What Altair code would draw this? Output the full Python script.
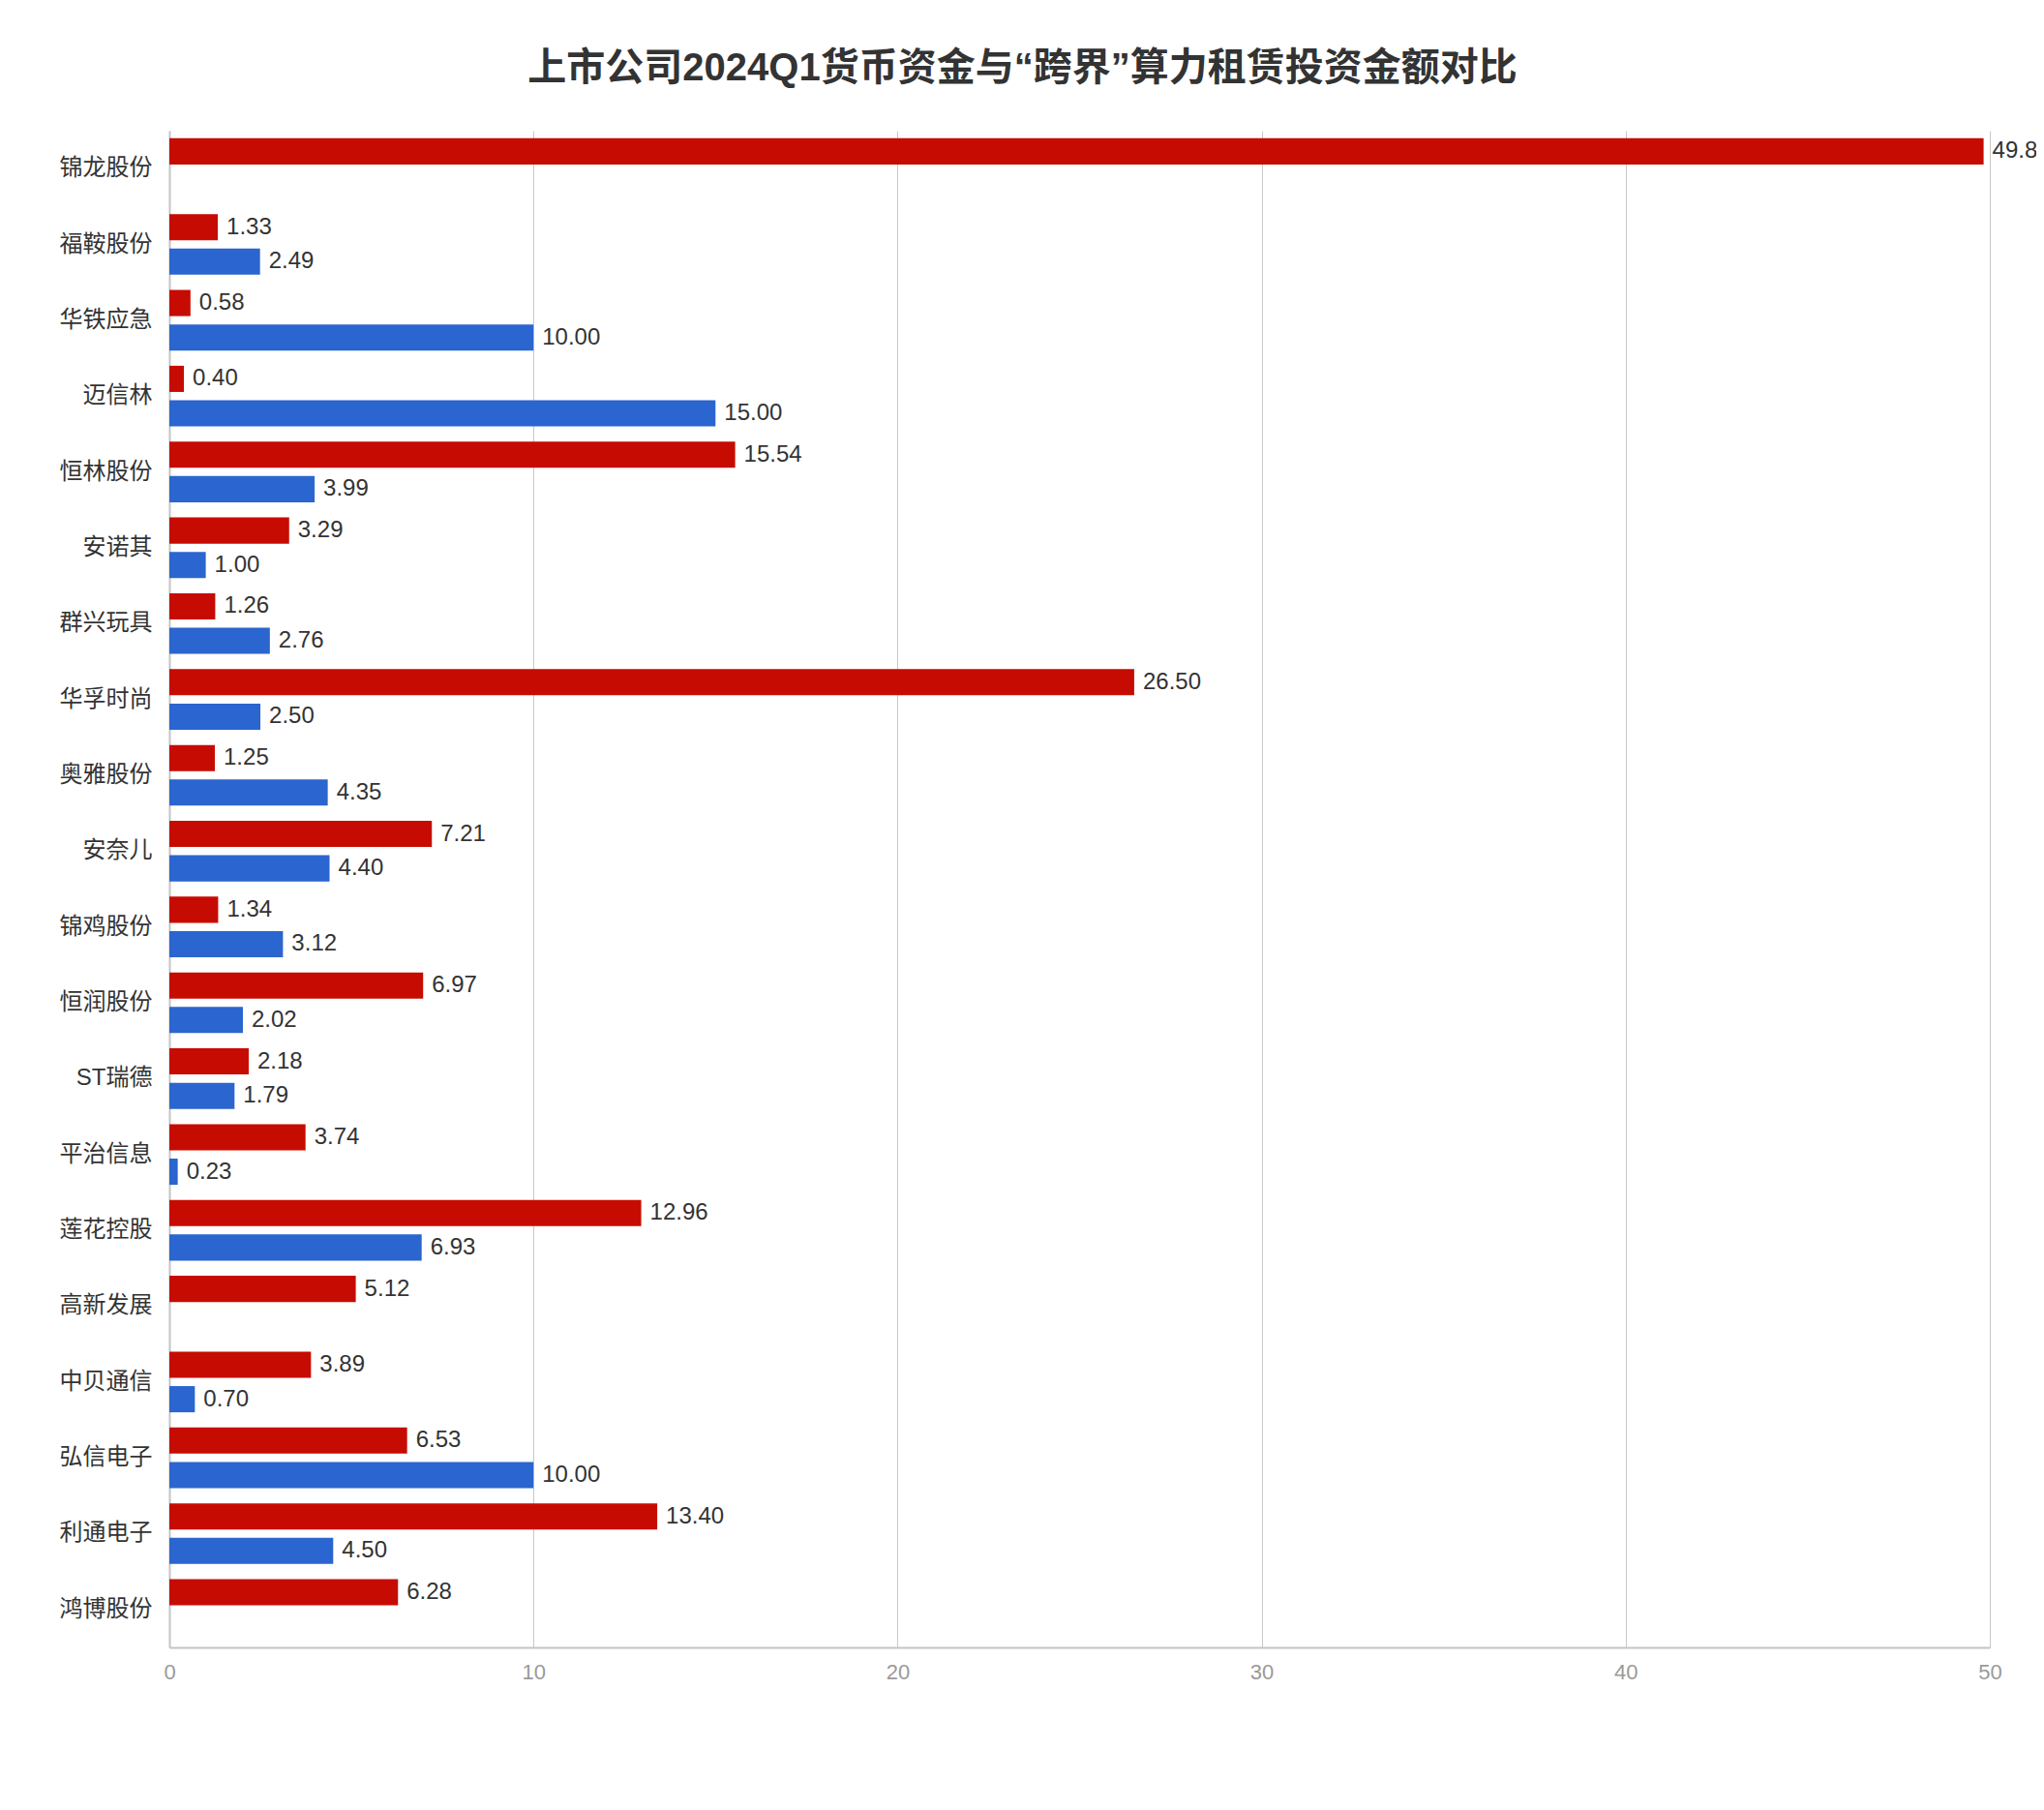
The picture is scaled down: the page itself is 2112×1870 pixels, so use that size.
import altair as alt
import pandas as pd

categories = ["锦龙股份", "福鞍股份", "华铁应急", "迈信林", "恒林股份", "安诺其", "群兴玩具",
              "华孚时尚", "奥雅股份", "安奈儿", "锦鸡股份", "恒润股份", "ST瑞德", "平治信息",
              "莲花控股", "高新发展", "中贝通信", "弘信电子", "利通电子", "鸿博股份"]
cash = [49.83, 1.33, 0.58, 0.40, 15.54, 3.29, 1.26, 26.50, 1.25, 7.21,
        1.34, 6.97, 2.18, 3.74, 12.96, 5.12, 3.89, 6.53, 13.40, 6.28]
invest = [None, 2.49, 10.00, 15.00, 3.99, 1.00, 2.76, 2.50, 4.35, 4.40,
          3.12, 2.02, 1.79, 0.23, 6.93, None, 0.70, 10.00, 4.50, None]
series = ["货币资金", "算力租赁投资金额"]
colors = ["#c60c02", "#2b65cf"]
x_ticks = [0, 10, 20, 30, 40, 50]

rows = []
for c, a, b in zip(categories, cash, invest):
    if a is not None:
        rows.append({"公司": c, "类别": series[0], "金额": a})
    if b is not None:
        rows.append({"公司": c, "类别": series[1], "金额": b})
df = pd.DataFrame(rows)

FONT = "Liberation Sans, Noto Sans CJK SC"

y_enc = alt.Y("公司:N", sort=categories,
              scale=alt.Scale(paddingInner=0.2, paddingOuter=0.1),
              axis=alt.Axis(title=None, labelFontSize=24, labelColor="#333333",
                            labelPadding=18, ticks=False, domainColor="#c4c4c4",
                            domainWidth=2, labelFont=FONT))
yoff_enc = alt.YOffset("类别:N", sort=series,
                       scale=alt.Scale(domain=series, paddingInner=0.24, paddingOuter=0))
x_enc = alt.X("金额:Q", scale=alt.Scale(domain=[0, 50], nice=False),
              axis=alt.Axis(title=None, values=x_ticks, labelFontSize=22,
                            labelColor="#9a9a9a", labelPadding=15, ticks=False,
                            labelFlush=False,
                            domainColor="#c4c4c4", domainWidth=2, gridColor="#c8c8c8",
                            gridWidth=1, labelFont=FONT))
color_enc = alt.Color("类别:N", scale=alt.Scale(domain=series, range=colors), legend=None)

bars = alt.Chart(df).mark_bar().encode(y=y_enc, yOffset=yoff_enc, x=x_enc, color=color_enc)
labels = alt.Chart(df).mark_text(align="left", baseline="middle", dx=9, fontSize=24,
                                 color="#333333", font=FONT).encode(
    y=alt.Y("公司:N", sort=categories), yOffset=alt.YOffset("类别:N", sort=series),
    x="金额:Q", text=alt.Text("金额:Q", format=".2f"))

chart = (bars + labels).properties(
    width=1881, height=1567,
    autosize=alt.AutoSizeParams(type="none"),
    padding={"left": 167, "top": 127, "right": 48, "bottom": 100},
    title=alt.TitleParams("上市公司2024Q1货币资金与“跨界”算力租赁投资金额对比",
                          fontSize=40, fontWeight="bold", color="#333333",
                          font=FONT, anchor="middle", dx=-59, baseline="bottom",
                          offset=4),
).configure_view(strokeWidth=0)

chart.save("out.html", embed_options={"renderer": "svg", "actions": False})
